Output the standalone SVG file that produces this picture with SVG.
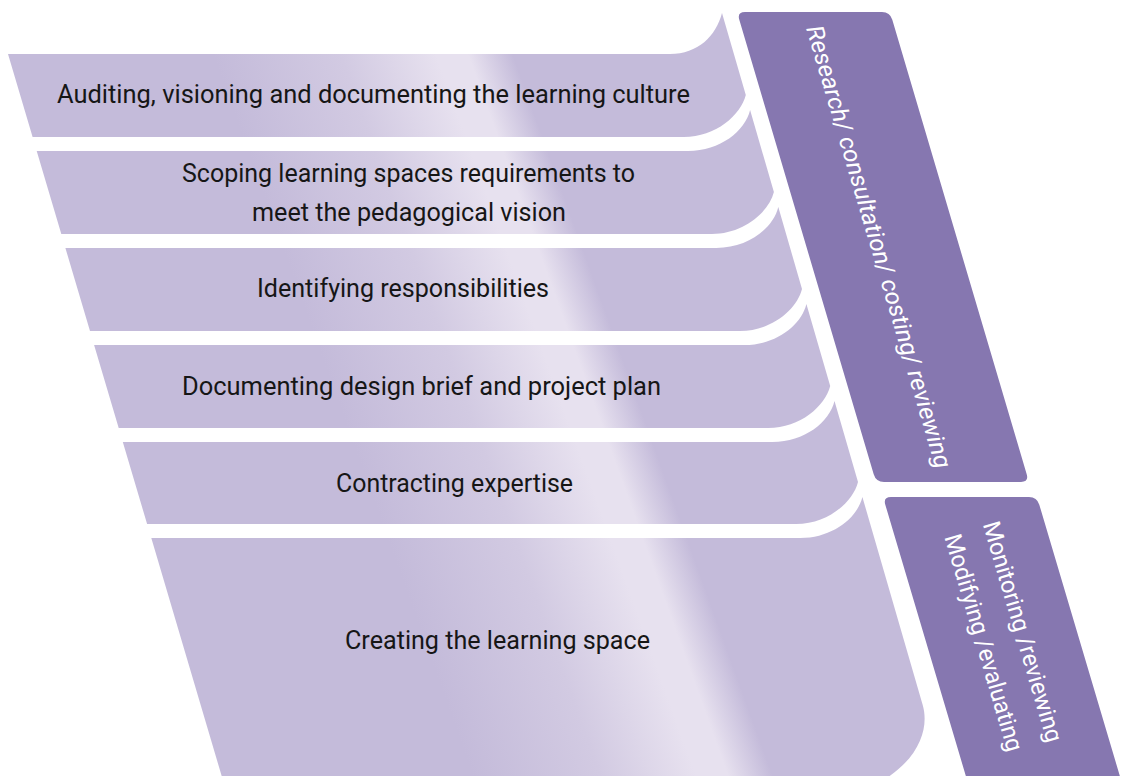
<svg xmlns="http://www.w3.org/2000/svg" width="1122" height="776" viewBox="0 0 1122 776">
  <defs>
    <!-- soft diagonal highlight running across the stacked bands -->
    <linearGradient id="bandFill" gradientUnits="userSpaceOnUse" x1="187.7" y1="196.7" x2="752.3" y2="-6.7">
      <stop offset="0" stop-color="#c4bbda"/>
      <stop offset="0.12" stop-color="#c4bbda"/>
      <stop offset="0.32" stop-color="#d2cae2"/>
      <stop offset="0.47" stop-color="#e7e1ef"/>
      <stop offset="0.52" stop-color="#e7e1ef"/>
      <stop offset="0.59" stop-color="#c4bbda"/>
      <stop offset="1" stop-color="#c4bbda"/>
    </linearGradient>
    <style>
      .band { fill: url(#bandFill); }
      .bar { fill: #8677b0; }
      .label { font-family: Roboto, "Liberation Sans", sans-serif; font-size: 26px; fill: #161616; text-anchor: middle; }
      .side { font-family: Roboto, "Liberation Sans", sans-serif; font-size: 24px; fill: #ffffff; text-anchor: middle; }
      .italic { font-style: italic; }
    </style>
  </defs>

  <rect width="1122" height="776" fill="#ffffff"/>

  <!-- stage bands, top to bottom -->
  <g id="stage-auditing">
    <path class="band" d="M 8 54 L 670 54 C 698 54 716 36 722 13 L 745.8 95 C 740.8 115 715.8 137 683.8 137 L 32.6 137 Z"/>
    <text class="label" x="373.5" y="103" textLength="633" lengthAdjust="spacingAndGlyphs">Auditing, visioning and documenting the learning culture</text>
  </g>

  <g id="stage-scoping">
    <path class="band" d="M 36.7 151 L 688.1 151 C 720.1 151 745.1 131 750.1 110 L 773.9 192 C 768.9 212 743.9 234 711.9 234 L 61.3 234 Z"/>
    <text class="label" x="408.5" y="182" textLength="453" lengthAdjust="spacingAndGlyphs">Scoping learning spaces requirements to</text>
    <text class="label" x="409" y="221" textLength="314" lengthAdjust="spacingAndGlyphs">meet the pedagogical vision</text>
  </g>

  <g id="stage-responsibilities">
    <path class="band" d="M 65.4 248 L 716.3 248 C 748.3 248 773.3 228 778.3 207 L 802 289 C 797 309 772 331 740 331 L 90 331 Z"/>
    <text class="label" x="403" y="297" textLength="292" lengthAdjust="spacingAndGlyphs">Identifying responsibilities</text>
  </g>

  <g id="stage-brief">
    <path class="band" d="M 94.1 345 L 744.4 345 C 776.4 345 801.4 325 806.4 304 L 830.2 386 C 825.2 406 800.2 428 768.2 428 L 118.7 428 Z"/>
    <text class="label" x="421.5" y="395" textLength="479" lengthAdjust="spacingAndGlyphs">Documenting design brief and project plan</text>
  </g>

  <g id="stage-contracting">
    <path class="band" d="M 122.8 442 L 772.5 442 C 804.5 442 829.5 422 834.5 401 L 858 482 C 853 502 828 524 796 524 L 147.1 524 Z"/>
    <text class="label" x="454.5" y="492" textLength="237" lengthAdjust="spacingAndGlyphs">Contracting expertise</text>
  </g>

  <g id="stage-creating">
    <path class="band" d="M 151.3 538 L 800.4 538 C 832.4 538 857.4 518 862.4 497 L 922.7 705 C 930 730 918 768 860 792 L 226.4 792 Z"/>
    <text class="label" x="497.5" y="649" textLength="305" lengthAdjust="spacingAndGlyphs">Creating the learning space</text>
  </g>

  <!-- side bars spanning the stages -->
  <g id="bar-research">
    <path class="bar" d="M 745 12 L 882 12 Q 890 12 892.3 19.7 L 1026.7 474.3 Q 1029 482 1021 482 L 884 482 Q 876 482 873.7 474.3 L 739.3 19.7 Q 737 12 745 12 Z"/>
    <text class="side italic" transform="translate(871 249) rotate(73.6)" x="0" y="0" textLength="460" lengthAdjust="spacingAndGlyphs">Research/ consultation/ costing/ reviewing</text>
  </g>

  <g id="bar-monitoring">
    <path class="bar" d="M 891 497 L 1029 497 Q 1037 497 1039.3 504.7 L 1124 790 L 970 790 L 885.3 504.7 Q 883 497 891 497 Z"/>
    <text class="side" transform="translate(1015 634) rotate(73.6)" x="0" y="0" textLength="229" lengthAdjust="spacingAndGlyphs">Monitoring /reviewing</text>
    <text class="side" transform="translate(976 645) rotate(73.6)" x="0" y="0" textLength="225" lengthAdjust="spacingAndGlyphs">Modifying /evaluating</text>
  </g>

  <!-- no connectors in this figure -->
  <g id="connectors"/>
</svg>
